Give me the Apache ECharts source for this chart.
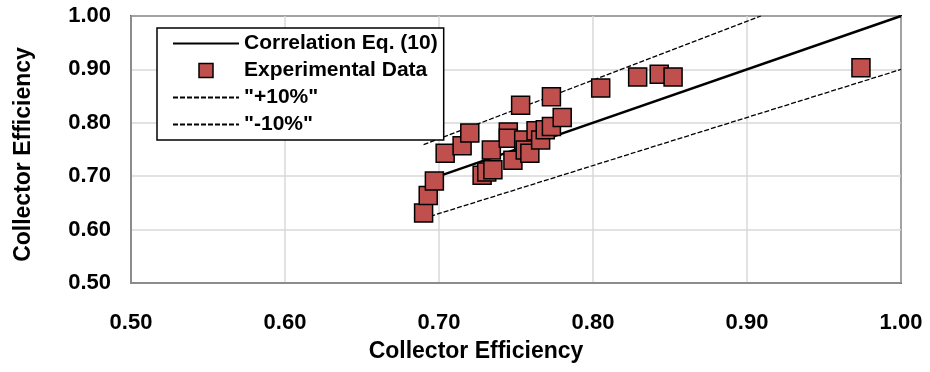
<!DOCTYPE html>
<html>
<head>
<meta charset="utf-8">
<script src="https://cdn.jsdelivr.net/npm/echarts@6/dist/echarts.min.js"></script>
<style>
  html, body { margin: 0; padding: 0; background: #fff; }
  #chart { width: 930px; height: 372px; }
</style>
</head>
<body>
<div id="chart"></div>
<script>
  // axis ticks
  var axisTicks = [0.5, 0.6, 0.7, 0.8, 0.9, 1.0]

  // experimental points [predicted, measured]
  var expData = [
    [0.690, 0.631], [0.693, 0.664], [0.697, 0.691], [0.704, 0.743],
    [0.715, 0.757], [0.720, 0.781], [0.728, 0.702], [0.731, 0.708],
    [0.735, 0.712], [0.734, 0.749], [0.745, 0.783], [0.745, 0.771],
    [0.748, 0.730], [0.753, 0.833], [0.755, 0.768], [0.756, 0.749],
    [0.759, 0.743], [0.763, 0.785], [0.766, 0.768], [0.769, 0.787],
    [0.773, 0.793], [0.773, 0.849], [0.780, 0.810], [0.805, 0.865],
    [0.829, 0.886], [0.843, 0.891], [0.852, 0.886], [0.974, 0.903]
  ]

  // correlation line and the +/-10% band
  var corrLine = [[0.70, 0.70], [1.00, 1.00]]
  var plusLine = [[0.69, 0.759], [0.909, 1.00]]
  var minusLine = [[0.69, 0.621], [1.00, 0.90]]

  var font = 'Liberation Sans'
  var hidden = { color: 'rgba(0,0,0,0)', borderWidth: 0 }

  var myChart = echarts.init(document.getElementById('chart'))
  myChart.setOption({
    animation: false,
    grid: {
      left: 131,
      right: 29,
      top: 16,
      bottom: 89,
      show: true,
      borderColor: '#000',
      borderWidth: 2
    },
    legend: {
      left: 157,
      top: 28,
      orient: 'vertical',
      backgroundColor: '#fff',
      borderColor: '#000',
      borderWidth: 1.5,
      padding: [5, 6, 5, 15],
      itemWidth: 66,
      itemHeight: 14,
      itemGap: 6,
      textStyle: { fontFamily: font, fontWeight: 'bold', fontSize: 21, color: '#000', lineHeight: 21 },
      data: [
        { name: 'Correlation Eq. (10)', itemStyle: hidden },
        { name: 'Experimental Data', icon: 'path://M0,0H10V10H0Z', itemStyle: { borderWidth: 1.5 } },
        { name: '"+10%"', itemStyle: hidden },
        { name: '"-10%"', itemStyle: hidden }
      ]
    },
    xAxis: {
      type: 'value',
      min: 0.5,
      max: 1.0,
      interval: 0.1,
      name: 'Collector Efficiency',
      nameLocation: 'middle',
      nameGap: 57,
      nameTextStyle: { fontFamily: font, fontWeight: 'bold', fontSize: 23, color: '#000', padding: [0, 80, 0, 0] },
      axisLine: { show: true, onZero: false, lineStyle: { color: '#8c8c8c', width: 2 } },
      axisTick: { show: false },
      splitLine: { show: true, lineStyle: { color: '#d9d9d9', width: 1.5 } },
      axisLabel: {
        margin: 29,
        fontFamily: font, fontWeight: 'bold', fontSize: 22, color: '#000',
        formatter: function (v) { return v.toFixed(2) }
      }
    },
    yAxis: {
      type: 'value',
      min: 0.5,
      max: 1.0,
      interval: 0.1,
      name: 'Collector Efficiency',
      nameLocation: 'middle',
      nameGap: 96,
      nameTextStyle: { fontFamily: font, fontWeight: 'bold', fontSize: 23, color: '#000', padding: [0, 10, 0, 0] },
      axisLine: { show: true, onZero: false, lineStyle: { color: '#8c8c8c', width: 2 } },
      axisTick: { show: false },
      splitLine: { show: true, lineStyle: { color: '#d9d9d9', width: 1.5 } },
      axisLabel: {
        margin: 20,
        fontFamily: font, fontWeight: 'bold', fontSize: 22, color: '#000',
        formatter: function (v) { return v.toFixed(2) }
      }
    },
    series: [
      {
        name: 'Correlation Eq. (10)',
        type: 'line',
        symbol: 'none',
        data: corrLine,
        z: 3,
        lineStyle: { color: '#000', width: 2.4 },
        itemStyle: hidden
      },
      {
        name: '"+10%"',
        type: 'line',
        symbol: 'none',
        data: plusLine,
        z: 3,
        lineStyle: { color: '#000', width: 1.3, type: [5, 2] },
        itemStyle: hidden
      },
      {
        name: '"-10%"',
        type: 'line',
        symbol: 'none',
        data: minusLine,
        z: 3,
        lineStyle: { color: '#000', width: 1.3, type: [5, 2] },
        itemStyle: hidden
      },
      {
        name: 'Experimental Data',
        type: 'scatter',
        symbol: 'rect',
        symbolSize: 18,
        data: expData,
        z: 4,
        itemStyle: { color: '#C0504D', borderColor: '#000', borderWidth: 1.5, opacity: 1 }
      }
    ]
  })
</script>
</body>
</html>
